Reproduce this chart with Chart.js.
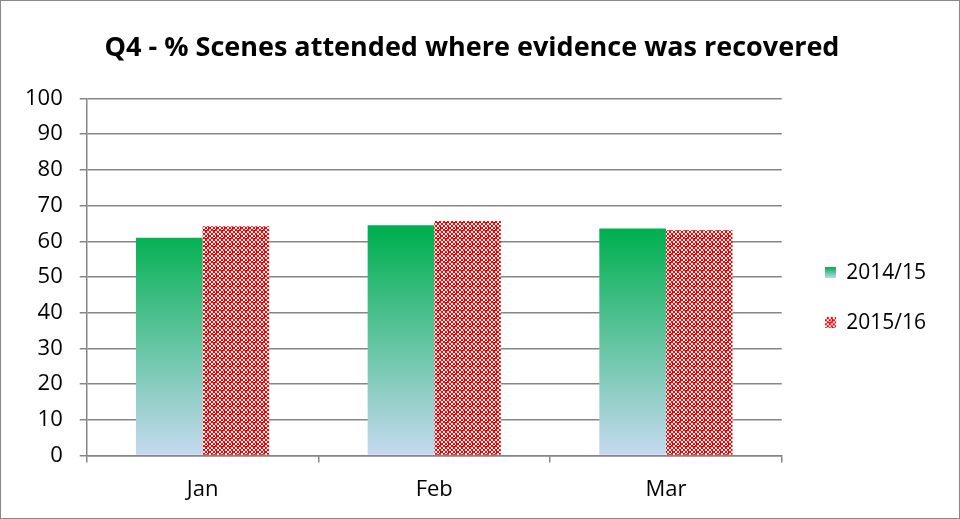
<!DOCTYPE html>
<html>
<head>
<meta charset="utf-8">
<script src="https://cdn.jsdelivr.net/npm/chart.js@4"></script>
<style>
  html, body { margin: 0; padding: 0; background: #fff; }
  #wrap { width: 960px; height: 519px; box-sizing: border-box; border: 1px solid #888; position: relative; }
  canvas { display: block; }
</style>
</head>
<body>
<div id="wrap"><canvas id="chart" width="958" height="517"></canvas></div>
<script>
var months = ["Jan", "Feb", "Mar"];
var seriesNames = ["2014/15", "2015/16"];
var values1415 = [61.0, 64.5, 63.6];
var values1516 = [64.2, 65.7, 63.1];
var yTicks = [0, 10, 20, 30, 40, 50, 60, 70, 80, 90, 100];

var FONT = "'Open Sans', sans-serif";

// red / white checker pattern for 2015/16
function makePattern() {
    var c = document.createElement("canvas");
    c.width = 8; c.height = 8;
    var g = c.getContext("2d");
    g.fillStyle = "#ff0000";
    g.fillRect(0, 0, 8, 8);
    g.fillStyle = "#ffffff";
    g.fillRect(0, 0, 2, 2);
    g.fillRect(4, 0, 2, 2);
    g.fillRect(2, 2, 2, 2);
    g.fillRect(6, 2, 1, 2);
    g.fillRect(0, 4, 2, 2);
    g.fillRect(4, 4, 2, 1);
    g.fillRect(2, 6, 2, 2);
    g.fillRect(6, 6, 2, 2);
    return c;
}
var patternTile = makePattern();
var ctx = document.getElementById("chart").getContext("2d");
var redPattern = ctx.createPattern(patternTile, "repeat");

function legendIcon(kind) {
    var c = document.createElement("canvas");
    c.width = 11; c.height = 11;
    var g = c.getContext("2d");
    if (kind === 0) {
        var gr = g.createLinearGradient(0, 0, 0, 11);
        gr.addColorStop(0, "#00b050");
        gr.addColorStop(1, "#c6d9f1");
        g.fillStyle = gr;
    } else {
        g.fillStyle = g.createPattern(patternTile, "repeat");
    }
    g.fillRect(0, 0, 11, 11);
    return c;
}
var icons = [legendIcon(0), legendIcon(1)];

function greenGradient(context) {
    var chart = context.chart;
    var area = chart.chartArea;
    if (!area) return "#00b050";
    var y = chart.scales.y;
    var gr = chart.ctx.createLinearGradient(0, y.getPixelForValue(0), 0, y.getPixelForValue(63));
    gr.addColorStop(0, "#c6d9f1");
    gr.addColorStop(1, "#00b050");
    return gr;
}

new Chart(ctx, {
    type: "bar",
    data: {
        labels: months,
        datasets: [
            { label: seriesNames[0], data: values1415, backgroundColor: greenGradient, pointStyle: icons[0] },
            { label: seriesNames[1], data: values1516, backgroundColor: redPattern, pointStyle: icons[1] }
        ]
    },
    options: {
        responsive: false,
        animation: false,
        layout: { padding: { left: 7, right: 23, top: 0, bottom: 1 } },
        datasets: { bar: { categoryPercentage: 0.575, barPercentage: 1.0 } },
        plugins: {
            title: {
                display: true,
                text: "Q4 - % Scenes attended where evidence was recovered",
                color: "#000",
                font: { family: FONT, size: 27, weight: "bold" },
                padding: { top: 31, bottom: 34 }
            },
            legend: {
                position: "right",
                align: "start",
                title: { display: true, text: " ", font: { size: 1 }, padding: { top: 231, bottom: 0 } },
                labels: {
                    usePointStyle: true,
                    boxWidth: 11,
                    color: "#000",
                    font: { family: FONT, size: 21 },
                    padding: 29
                }
            },
            tooltip: { enabled: false }
        },
        scales: {
            x: {
                grid: { display: true, drawOnChartArea: false, offset: true, color: "#868686", lineWidth: 1.5, tickLength: 7 },
                border: { color: "#868686", width: 1.5 },
                ticks: { color: "#000", font: { family: FONT, size: 22 }, padding: 14 }
            },
            y: {
                min: 0,
                max: 100,
                afterBuildTicks: function (axis) { axis.ticks = yTicks.map(function (v) { return { value: v }; }); },
                grid: { color: "#868686", lineWidth: 1.5, tickLength: 7 },
                border: { color: "#868686", width: 1.5 },
                ticks: { color: "#000", font: { family: FONT, size: 22 }, padding: 17 }
            },
            // empty right-hand spacer between plot area and legend
            gap: {
                position: "right",
                grid: { display: false },
                border: { display: false },
                ticks: { display: false },
                afterFit: function (axis) { axis.width = 14; }
            }
        }
    }
});
</script>
</body>
</html>
